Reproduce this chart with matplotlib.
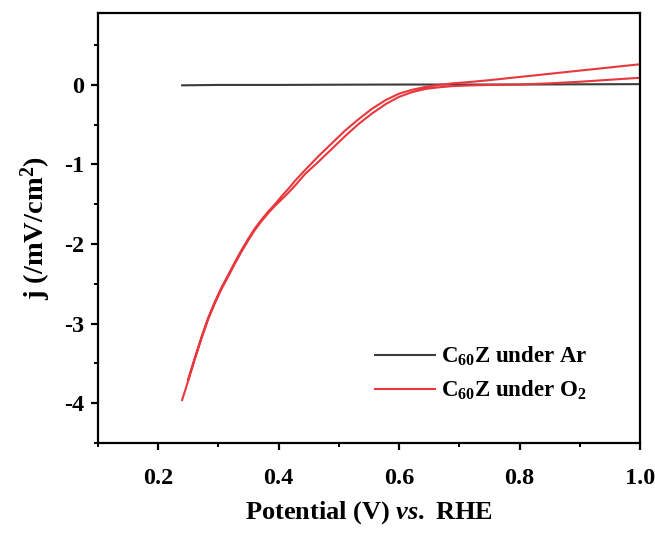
import matplotlib
matplotlib.use("Agg")
import matplotlib.pyplot as plt
from matplotlib.ticker import MultipleLocator

plt.rcParams['font.family'] = ['Liberation Serif', 'DejaVu Serif']
plt.rcParams['font.weight'] = 'bold'
plt.rcParams['mathtext.fontset'] = 'custom'
plt.rcParams['mathtext.rm'] = 'Liberation Serif:bold'
plt.rcParams['mathtext.it'] = 'Liberation Serif:bold:italic'
plt.rcParams['mathtext.bf'] = 'Liberation Serif:bold'

# Ar (flat baseline)
ar_x = [0.240, 0.30, 0.40, 0.50, 0.60, 0.70, 0.80, 0.90, 1.0]
ar_y = [-0.005, 0.0, 0.0, 0.003, 0.005, 0.005, 0.005, 0.008, 0.01]

# O2 forward branch (cathodic start -> anodic end)
o2_fx = [0.240, 0.250, 0.261, 0.272, 0.283, 0.294, 0.305, 0.317, 0.328, 0.339,
         0.350, 0.361, 0.372, 0.383, 0.394, 0.405, 0.417, 0.428, 0.444, 0.467,
         0.489, 0.511, 0.533, 0.555, 0.578, 0.600, 0.622, 0.644, 0.666, 0.689,
         0.722, 0.75, 0.80, 0.85, 0.90, 0.95, 1.0]
o2_fy = [-3.96, -3.72, -3.45, -3.19, -2.95, -2.75, -2.57, -2.40, -2.24, -2.09,
         -1.95, -1.82, -1.71, -1.61, -1.52, -1.44, -1.35, -1.26, -1.12, -0.96,
         -0.80, -0.64, -0.49, -0.36, -0.24, -0.15, -0.09, -0.05, -0.03, -0.015,
         -0.005, 0.0, 0.005, 0.02, 0.04, 0.065, 0.09]
# O2 reverse branch
o2_rx = [1.0, 0.95, 0.90, 0.85, 0.80, 0.75, 0.722, 0.689, 0.666, 0.644,
         0.622, 0.600, 0.578, 0.555, 0.533, 0.511, 0.489, 0.467, 0.444, 0.428,
         0.417, 0.405, 0.394, 0.383, 0.372, 0.361, 0.350, 0.339, 0.328, 0.317,
         0.305, 0.294, 0.283, 0.272, 0.261, 0.250]
o2_ry = [0.26, 0.22, 0.18, 0.14, 0.10, 0.06, 0.04, 0.02, 0.0, -0.025,
         -0.06, -0.11, -0.19, -0.30, -0.43, -0.57, -0.73, -0.89, -1.07, -1.20,
         -1.30, -1.40, -1.50, -1.59, -1.69, -1.80, -1.93, -2.07, -2.22, -2.38,
         -2.55, -2.73, -2.93, -3.17, -3.43, -3.70]

labels = [r"C$_{60}$Z under Ar", r"C$_{60}$Z under O$_{2}$"]

fig = plt.figure(figsize=(6.55, 5.33), dpi=100)
ax = fig.add_axes([0.1493, 0.1689, 0.9771 - 0.1493, 0.975 - 0.1689])

ax.plot(ar_x, ar_y, color='#3c3c3c', lw=1.5, label=labels[0])
ax.plot(o2_fx + o2_rx, o2_fy + o2_ry, color='#e8383d', lw=1.5, label=labels[1])

ax.set_xlim(0.1, 1.0)
ax.set_ylim(-4.5, 0.9)
ax.xaxis.set_minor_locator(MultipleLocator(0.1))
ax.yaxis.set_minor_locator(MultipleLocator(0.5))
ax.set_xticks([0.2, 0.4, 0.6, 0.8, 1.0])
ax.set_xticklabels(['0.2', '0.4', '0.6', '0.8', '1.0'])
ax.set_yticks([-4, -3, -2, -1, 0])
ax.set_yticklabels(['-4', '-3', '-2', '-1', '0'])

for s in ax.spines.values():
    s.set_linewidth(1.6)
ax.tick_params(which='major', direction='out', length=5, width=1.6, labelsize=17.5)
ax.tick_params(axis='x', which='major', pad=13)
ax.tick_params(axis='y', which='major', pad=5)
ax.tick_params(which='minor', direction='out', length=3, width=1.4)
for lab in ax.get_xticklabels() + ax.get_yticklabels():
    lab.set_fontweight('bold')

ax.set_xlabel(r"Potential (V) $\mathit{vs.}$ RHE", fontsize=19, fontweight='bold', labelpad=7)
ax.set_ylabel(r"j (/mV/cm$^{2}$)", fontsize=20.5, fontweight='bold', labelpad=8)

leg = ax.legend(loc='upper left', bbox_to_anchor=(0.495, 0.249), borderaxespad=0,
                frameon=False, prop={'size': 16.5, 'weight': 'bold'},
                handlelength=2.6, handletextpad=0.25, labelspacing=0.45)

fig.savefig('out.png', dpi=100, facecolor='white')
